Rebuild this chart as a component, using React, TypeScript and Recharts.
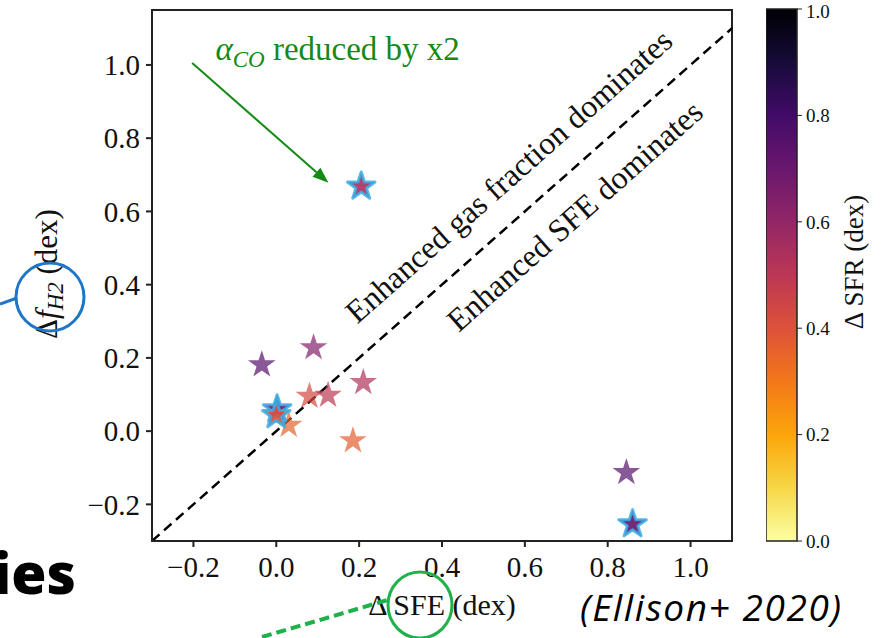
import { ScatterChart, Scatter, XAxis, YAxis, ReferenceLine, ReferenceDot, ReferenceArea, BarChart, Bar } from 'recharts'

// offsets of each galaxy from the scaling relations, in dex
// (alpha_CO-corrected ones are listed last so they draw on top)
const deltaSFE = [-0.035, 0.09, 0.21, 0.08, 0.125, 0.03, 0.185, 0.845, 0.205, 0.002, 0.0, 0.86]
const deltaFH2 = [0.181, 0.228, 0.133, 0.095, 0.098, 0.016, -0.026, -0.113, 0.668, 0.06, 0.044, -0.254]
const deltaSFR = [0.75, 0.64, 0.53, 0.43, 0.5, 0.36, 0.37, 0.75, 0.55, 0.7, 0.4, 0.72]
const coHalved = [false, false, false, false, false, false, false, false, true, true, true, true]

const xTicks = [-0.2, 0, 0.2, 0.4, 0.6, 0.8, 1.0]
const yTicks = [-0.2, 0, 0.2, 0.4, 0.6, 0.8, 1.0]
const sfrTicks = [0, 0.2, 0.4, 0.6, 0.8, 1.0]
const sfrRange = [0, 1]

const points = deltaSFE.map((x, i) => ({ x, y: deltaFH2[i], sfr: deltaSFR[i], edged: coHalved[i] }))
const colourbar = [{ name: 'sfr', lo: sfrRange[0], hi: sfrRange[1] }]

const SERIF = "'Liberation Serif', 'DejaVu Serif', serif"
const SANS = "'Open Sans', 'Noto Sans', sans-serif"
const GREEN = '#168a16'

const INFERNO = ['#000004', '#160b39', '#420a68', '#6a176e', '#932667', '#bc3754', '#dd513a', '#f37819', '#fca50a', '#f6d746', '#fcffa4']

function hexRgb(h: string) {
  return [1, 3, 5].map(i => parseInt(h.slice(i, i + 2), 16))
}

function inferno(t: number) {
  const v = Math.min(1, Math.max(0, t)) * 10
  const i = Math.min(9, Math.floor(v))
  const f = v - i
  const a = hexRgb(INFERNO[i]), b = hexRgb(INFERNO[i + 1])
  const c = a.map((ai, k) => Math.round(ai + (b[k] - ai) * f))
  return `rgb(${c[0]},${c[1]},${c[2]})`
}

const fmt = (v: number) => (v < 0 ? '\u2212' : '') + Math.abs(v).toFixed(1)

function starPath(cx: number, cy: number, R: number) {
  const r = R * 0.382
  let d = ''
  for (let k = 0; k < 10; k++) {
    const a = -Math.PI / 2 + (k * Math.PI) / 5
    const rr = k % 2 === 0 ? R : r
    d += (k === 0 ? 'M' : 'L') + (cx + rr * Math.cos(a)).toFixed(2) + ',' + (cy + rr * Math.sin(a)).toFixed(2)
  }
  return d + 'Z'
}

const StarShape = (props: any) => {
  const { cx, cy, payload } = props
  const edged = payload.edged
  return (
    <path
      d={starPath(cx, cy, 14.5)}
      fill={inferno(1 - payload.sfr)}
      fillOpacity={edged ? 0.9 : 0.7}
      stroke={edged ? '#38ade6' : 'none'}
      strokeWidth={edged ? 3 : 0}
      strokeOpacity={0.85}
      strokeLinejoin="round"
    />
  )
}

const ArrowShape = (p: any) => {
  const { x1, y1, x2, y2 } = p
  const ang = Math.atan2(y2 - y1, x2 - x1)
  const L = 16, W = 6
  const bx = x2 - L * Math.cos(ang), by = y2 - L * Math.sin(ang)
  const nx = -Math.sin(ang) * W, ny = Math.cos(ang) * W
  return (
    <g>
      <line x1={x1} y1={y1} x2={bx} y2={by} stroke={GREEN} strokeWidth={2} />
      <polygon points={`${x2},${y2} ${bx + nx},${by + ny} ${bx - nx},${by - ny}`} fill={GREEN} />
    </g>
  )
}

const diagText = (label: string) => (p: any) => (
  <text
    x={p.cx}
    y={p.cy}
    transform={`rotate(-41.5 ${p.cx} ${p.cy})`}
    textAnchor="middle"
    dominantBaseline="central"
    fontFamily={SERIF}
    fontSize={32}
    fill="#111"
  >
    {label}
  </text>
)

const CoNote = (p: any) => (
  <text x={p.cx} y={p.cy} fontFamily={SERIF} fontSize={33} fill={GREEN}>
    <tspan fontStyle="italic">α</tspan>
    <tspan fontStyle="italic" fontSize={23} dy={7}>CO</tspan>
    <tspan dy={-7}> reduced by x2</tspan>
  </text>
)

const XLabel = ({ viewBox }: any) => (
  <text x={viewBox.x + viewBox.width / 2} y={615} textAnchor="middle" fontFamily={SERIF} fontSize={30} fill="#111">
    Δ SFE (dex)
  </text>
)

const YLabel = () => (
  <text transform="translate(57 274) rotate(-90)" textAnchor="middle" fontFamily={SERIF} fontSize={31} fill="#111">
    <tspan>Δ</tspan>
    <tspan fontStyle="italic">f</tspan>
    <tspan fontStyle="italic" fontSize={23} dy={6}>H2</tspan>
    <tspan dy={-6}> (dex)</tspan>
  </text>
)

const CbarLabel = ({ viewBox }: any) => (
  <text
    transform={`translate(${viewBox.x + 66} 262) rotate(-90)`}
    textAnchor="middle"
    fontFamily={SERIF}
    fontSize={27}
    fill="#111"
  >
    Δ SFR (dex)
  </text>
)

const tickStyle = { fontFamily: SERIF, fontSize: 29, fill: '#111' }

export default function App() {
  return (
    <div style={{ position: 'fixed', left: 0, top: 0, width: 884, height: 638, background: '#fff', overflow: 'hidden' }}>
      <ScatterChart width={884} height={638} margin={{ top: 10, right: 152, bottom: 0, left: 0 }}>
        <XAxis
          dataKey="x"
          type="number"
          domain={[-0.3, 1.1]}
          allowDataOverflow
          ticks={xTicks}
          tickFormatter={fmt}
          height={97}
          tick={tickStyle}
          tickSize={6}
          tickMargin={9}
          stroke="#222"
          strokeWidth={2}
          label={<XLabel />}
        />
        <YAxis
          dataKey="y"
          type="number"
          domain={[-0.3, 1.15]}
          allowDataOverflow
          ticks={yTicks}
          tickFormatter={fmt}
          width={152}
          tick={tickStyle}
          tickSize={6}
          tickMargin={6}
          stroke="#222"
          strokeWidth={2}
          label={<YLabel />}
        />
        <ReferenceArea x1={-0.3} x2={1.1} y1={-0.3} y2={1.15} fill="none" stroke="#222" strokeWidth={2} />
        <Scatter data={points} shape={StarShape} isAnimationActive={false} />
        <ReferenceLine
          segment={[{ x: -0.3, y: -0.3 }, { x: 1.1, y: 1.1 }]}
          stroke="#000"
          strokeWidth={2.5}
          strokeDasharray="10 6"
        />
        <ReferenceLine segment={[{ x: -0.203, y: 1.005 }, { x: 0.126, y: 0.678 }]} shape={ArrowShape} />
        <ReferenceDot x={-0.147} y={1.014} r={0} shape={CoNote} />
        <ReferenceDot x={0.561} y={0.697} r={0} shape={diagText('Enhanced gas fraction dominates')} />
        <ReferenceDot x={0.72} y={0.588} r={0} shape={diagText('Enhanced SFE dominates')} />
      </ScatterChart>

      <div style={{ position: 'absolute', left: 766, top: 0 }}>
        <BarChart width={118} height={638} data={colourbar} margin={{ top: 9, right: 0, bottom: 97, left: 0 }} barCategoryGap={0}>
          <defs>
            <linearGradient id="infernoBar" x1="0" y1="0" x2="0" y2="1">
              {INFERNO.map((c, i) => (
                <stop key={i} offset={`${i * 10}%`} stopColor={c} />
              ))}
            </linearGradient>
          </defs>
          <XAxis dataKey="name" hide />
          <YAxis
            orientation="right"
            type="number"
            domain={sfrRange}
            ticks={sfrTicks}
            tickFormatter={(v: number) => v.toFixed(1)}
            width={87}
            axisLine={false}
            tickSize={5}
            tickMargin={4}
            tickLine={{ stroke: '#222' }}
            tick={{ fontFamily: SERIF, fontSize: 19, fill: '#111' }}
            label={<CbarLabel />}
          />
          <Bar dataKey={(d: any) => [d.lo, d.hi]} fill="url(#infernoBar)" stroke="#222" strokeWidth={1.5} isAnimationActive={false} />
        </BarChart>
      </div>

      <svg width={884} height={638} style={{ position: 'absolute', left: 0, top: 0, pointerEvents: 'none' }}>
        <line x1={0} y1={304} x2={17} y2={298} stroke="#1f76c6" strokeWidth={3} />
        <circle cx={50} cy={297} r={34} fill="none" stroke="#1f76c6" strokeWidth={3} />
        <line x1={262} y1={637} x2={391} y2={599} stroke="#1fb14b" strokeWidth={4} strokeDasharray="10 5" />
        <ellipse cx={420} cy={605} rx={32} ry={33} fill="none" stroke="#1fb14b" strokeWidth={3} />
        <text x={76} y={594} textAnchor="end" fontFamily={SANS} fontWeight={800} fontSize={57} fill="#000">
          ies
        </text>
        <text x={580} y={621} fontFamily={SANS} fontStyle="italic" fontSize={37} letterSpacing={1.6} fill="#000">
          (Ellison+ 2020)
        </text>
      </svg>
    </div>
  )
}
